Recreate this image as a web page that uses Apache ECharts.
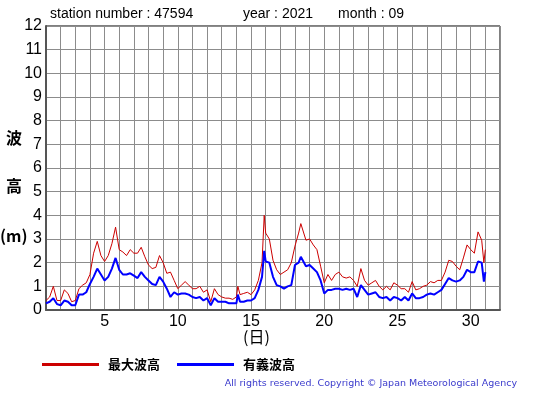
<!DOCTYPE html>
<html>
<head>
<meta charset="utf-8">
<script src="https://cdn.jsdelivr.net/npm/echarts@6/dist/echarts.min.js"></script>
<style>html,body{margin:0;padding:0;background:#fff}#c{width:555px;height:395px}</style>
</head>
<body>
<div id="c"></div>
<script>
// time in days (1.0 = start of Sept 1)
var times = [
  1, 1.25, 1.5, 1.75,
  2, 2.25, 2.5, 2.75,
  3, 3.25, 3.5, 3.75,
  4, 4.25, 4.5, 4.75,
  5, 5.25, 5.5, 5.75,
  6, 6.25, 6.5, 6.75,
  7, 7.25, 7.5, 7.75,
  8, 8.25, 8.5, 8.75,
  9, 9.25, 9.5, 9.75,
  10, 10.25, 10.5, 10.75,
  11, 11.25, 11.5, 11.75,
  12, 12.25, 12.5, 12.75,
  13, 13.25, 13.5, 13.75,
  14, 14.1, 14.25, 14.5, 14.75,
  15, 15.25, 15.5, 15.75, 15.9,
  16, 16.25, 16.5, 16.75,
  17, 17.25, 17.5, 17.75,
  18, 18.25, 18.4, 18.75,
  19, 19.25, 19.5, 19.75,
  20, 20.25, 20.5, 20.75,
  21, 21.25, 21.5, 21.75,
  22, 22.25, 22.5, 22.75,
  23, 23.25, 23.5, 23.75,
  24, 24.25, 24.5, 24.75,
  25, 25.25, 25.5, 25.75,
  26, 26.25, 26.5, 26.75,
  27, 27.25, 27.5, 27.75,
  28, 28.25, 28.5, 28.75,
  29, 29.25, 29.5, 29.75,
  30, 30.25, 30.5, 30.75, 30.9,
  31
];
var maxWave = [
  0.4, 0.55, 1.0, 0.4,
  0.4, 0.85, 0.7, 0.35,
  0.4, 0.9, 1.05, 1.15,
  1.5, 2.4, 2.9, 2.3,
  2.05, 2.3, 2.8, 3.5,
  2.55, 2.45, 2.3, 2.55,
  2.4, 2.4, 2.65, 2.25,
  1.9, 1.75, 1.8, 2.3,
  2.0, 1.55, 1.6, 1.25,
  0.9, 1.05, 1.2, 1.05,
  0.9, 0.9, 1.0, 0.75,
  0.85, 0.35, 0.9, 0.65,
  0.55, 0.5, 0.5, 0.45,
  0.55, 1.0, 0.65, 0.7, 0.75,
  0.65, 0.85, 1.25, 2.0, 4.0,
  3.25, 3.0, 2.1, 1.7,
  1.5, 1.6, 1.7, 2.0,
  2.7, 3.25, 3.65, 2.95,
  3.0, 2.75, 2.55, 1.85,
  1.15, 1.5, 1.25, 1.5,
  1.6, 1.4, 1.35, 1.4,
  1.25, 1.0, 1.75, 1.25,
  1.05, 1.15, 1.25, 1.0,
  0.85, 1.0, 0.85, 1.15,
  1.05, 0.9, 0.9, 0.75,
  1.2, 0.85, 0.9, 1.0,
  1.05, 1.2, 1.15, 1.25,
  1.25, 1.6, 2.1, 2.05,
  1.85, 1.7, 2.2, 2.75,
  2.55, 2.4, 3.3, 2.95, 2.0,
  2.55
];
var sigWave = [
  0.28, 0.35, 0.5, 0.25,
  0.2, 0.4, 0.35, 0.2,
  0.2, 0.65, 0.65, 0.75,
  1.1, 1.4, 1.75, 1.5,
  1.25, 1.4, 1.75, 2.2,
  1.7, 1.5, 1.5, 1.55,
  1.45, 1.35, 1.6, 1.4,
  1.25, 1.1, 1.05, 1.4,
  1.2, 0.9, 0.55, 0.75,
  0.65, 0.7, 0.7, 0.65,
  0.55, 0.5, 0.55, 0.4,
  0.5, 0.2, 0.5, 0.35,
  0.35, 0.35, 0.28, 0.28,
  0.28, 0.65, 0.35, 0.35, 0.4,
  0.4, 0.5, 0.85, 1.4, 2.5,
  2.05, 2.0, 1.4, 1.05,
  1.0, 0.9, 1.0, 1.05,
  1.9, 2.0, 2.25, 1.85,
  1.9, 1.75, 1.6, 1.25,
  0.7, 0.85, 0.85, 0.9,
  0.9, 0.85, 0.9, 0.85,
  0.9, 0.55, 1.05, 0.85,
  0.65, 0.7, 0.75, 0.55,
  0.5, 0.55, 0.4, 0.55,
  0.5, 0.4, 0.55, 0.4,
  0.7, 0.5, 0.5, 0.55,
  0.65, 0.7, 0.65, 0.75,
  0.85, 1.1, 1.35, 1.25,
  1.2, 1.25, 1.4, 1.7,
  1.6, 1.6, 2.05, 2.0, 1.2,
  1.6
];
var xLabelDays = [5, 10, 15, 20, 25, 30];
var seriesNames = ['最大波高', '有義波高'];

function pairs(vals) {
  return times.map(function (t, i) { return [t, vals[i]]; });
}

var chart = echarts.init(document.getElementById('c'), null, {renderer: 'canvas'});
var latin = '"Liberation Sans", Arial, sans-serif';
var cjk = '"Noto Sans CJK JP", sans-serif';
chart.setOption({
  animation: false,
  backgroundColor: '#fff',
  grid: {left: 46, right: 55, top: 26, bottom: 85, show: true, borderColor: '#000', borderWidth: 1},
  xAxis: {
    type: 'value', min: 1, max: 32, interval: 1,
    axisLine: {show: true, onZero: false, lineStyle: {color: '#555', width: 2}},
    axisTick: {show: false},
    splitLine: {show: true, lineStyle: {color: '#8c8c8c', width: 1}},
    axisLabel: {
      fontFamily: latin, fontSize: 16, color: '#000', margin: 4,
      formatter: function (v) { return xLabelDays.indexOf(v) >= 0 ? String(v) : ''; }
    }
  },
  yAxis: {
    type: 'value', min: 0, max: 12, interval: 1,
    axisLine: {show: true, lineStyle: {color: '#555', width: 2}},
    axisTick: {show: false},
    splitLine: {show: true, lineStyle: {color: '#8c8c8c', width: 1}},
    axisLabel: {fontFamily: latin, fontSize: 16, color: '#000', margin: 4}
  },
  legend: {
    left: 37, top: 353, itemWidth: 57, itemHeight: 3, itemGap: 17,
    icon: 'rect',
    textStyle: {fontFamily: cjk, fontSize: 13, fontWeight: 'bold', color: '#000', padding: [0, 0, 0, 4]},
    data: seriesNames
  },
  series: [
    {name: seriesNames[0], type: 'line', showSymbol: false, data: pairs(maxWave),
     lineStyle: {color: '#cc0000', width: 1}, itemStyle: {color: '#cc0000'}},
    {name: seriesNames[1], type: 'line', showSymbol: false, data: pairs(sigWave),
     lineStyle: {color: '#0000ff', width: 2}, itemStyle: {color: '#0000ff'}}
  ],
  graphic: [
    {type: 'text', left: 50, top: 7, style: {text: 'station number : 47594', font: '14px ' + latin, fill: '#000'}},
    {type: 'text', left: 243, top: 7, style: {text: 'year : 2021', font: '14px ' + latin, fill: '#000'}},
    {type: 'text', left: 338, top: 7, style: {text: 'month : 09', font: '14px ' + latin, fill: '#000'}},
    {type: 'text', left: 6, top: 130, style: {text: '波', font: 'bold 16px ' + cjk, fill: '#000'}},
    {type: 'text', left: 6, top: 178, style: {text: '高', font: 'bold 16px ' + cjk, fill: '#000'}},
    {type: 'text', left: 0, top: 228, style: {text: '(m)', font: 'bold 16px ' + cjk, fill: '#000'}},
    {type: 'text', left: 243, top: 329, style: {text: '(日)', font: '16px ' + cjk, fill: '#000'}},
    {type: 'text', right: 38, top: 379, style: {text: 'All rights reserved. Copyright © Japan Meteorological Agency', font: '9.5px "DejaVu Sans", sans-serif', fill: '#3a3acc'}}
  ]
});
</script>
</body>
</html>
